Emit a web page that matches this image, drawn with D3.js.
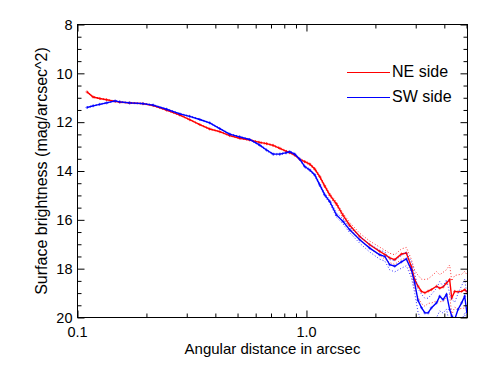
<!DOCTYPE html>
<html><head><meta charset="utf-8">
<script src="https://cdn.jsdelivr.net/npm/d3@7"></script>
<style>
body{margin:0;background:#fff}
text{font-family:"Liberation Sans",Arial,Helvetica,sans-serif;fill:#000}
</style>
</head><body><svg id="c" width="491" height="368"></svg>
<script>
const radius = [0.110,0.117,0.125,0.134,0.146,0.153,0.169,0.193,0.214,0.245,
  0.280,0.309,0.342,0.378,0.418,0.462,0.511,0.565,0.625,0.669,
  0.715,0.765,0.818,0.845,0.889,0.935,0.983,1.034,1.087,1.143,
  1.202,1.264,1.352,1.445,1.545,1.709,1.890,2.089,2.20,2.31,
  2.43,2.60,2.73,2.87,2.97,3.07,3.18,3.29,3.40,3.51,
  3.70,3.82,3.95,4.09,4.22,4.31,4.44,4.59,4.76,4.91,5.02];
const neMag = [10.76,10.97,11.03,11.08,11.15,11.18,11.21,11.24,11.32,11.51,
  11.71,11.90,12.10,12.28,12.39,12.55,12.66,12.73,12.83,12.88,
  12.95,13.07,13.20,13.25,13.35,13.52,13.62,13.72,13.92,14.23,
  14.62,14.98,15.35,15.82,16.22,16.68,17.02,17.29,17.42,17.56,
  17.63,17.40,17.36,17.91,18.45,18.72,18.93,18.99,18.92,18.86,
  18.72,18.80,18.75,18.59,18.45,19.20,18.93,18.95,18.93,18.86,18.95];
const swMag = [11.40,11.33,11.27,11.21,11.13,11.17,11.21,11.24,11.30,11.47,
  11.66,11.76,11.89,12.03,12.26,12.49,12.60,12.71,12.94,13.14,
  13.31,13.31,13.25,13.21,13.31,13.52,13.82,13.96,14.16,14.57,
  14.98,15.25,15.80,16.07,16.41,16.82,17.16,17.43,17.50,17.84,
  17.90,17.72,17.60,18.04,18.59,19.30,19.60,19.81,19.81,19.61,
  19.40,19.13,19.27,19.05,19.67,19.94,20.08,19.67,19.40,19.13,19.81];
const neErr = [0.02,0.02,0.02,0.02,0.02,0.02,0.02,0.02,0.02,0.02,
  0.02,0.02,0.02,0.02,0.02,0.02,0.02,0.02,0.03,0.03,
  0.03,0.03,0.03,0.03,0.03,0.03,0.04,0.04,0.05,0.05,
  0.06,0.07,0.08,0.09,0.11,0.13,0.15,0.17,0.18,0.19,
  0.20,0.21,0.23,0.30,0.38,0.45,0.50,0.55,0.50,0.55,
  0.60,0.55,0.60,0.55,0.60,0.70,0.65,0.70,0.70,0.75,0.70];
const swErr = [0.02,0.02,0.02,0.02,0.02,0.02,0.02,0.02,0.02,0.02,
  0.02,0.02,0.02,0.02,0.02,0.02,0.02,0.02,0.03,0.03,
  0.03,0.03,0.03,0.03,0.03,0.03,0.04,0.04,0.05,0.05,
  0.06,0.07,0.09,0.10,0.12,0.14,0.16,0.18,0.19,0.21,
  0.23,0.26,0.28,0.32,0.40,0.48,0.55,0.60,0.60,0.55,
  0.60,0.60,0.55,0.60,0.65,0.70,0.70,0.65,0.70,0.70,0.75];
const seriesNames = ["NE side","SW side"];
const seriesColors = ["#ff0000","#0000ff"];
const xMajorTicks = [0.1, 1.0];
const xMajorLabels = ["0.1","1.0"];
const xMinorTicks = [0.2,0.3,0.4,0.5,0.6,0.7,0.8,0.9,2,3,4,5];
const yMajorTicks = [8,10,12,14,16,18,20];
const yMinorTicks = [8.5,9,9.5,10.5,11,11.5,12.5,13,13.5,14.5,15,15.5,16.5,17,17.5,18.5,19,19.5];
const xTitle = "Angular distance in arcsec";
const yTitle = "Surface brightness (mag/arcsec^2)";

const svg = d3.select("#c");
const L = 77.5, R = 467.5, T = 24.5, B = 317.5;
const x = d3.scaleLog().domain([0.1, 5.05]).range([L, R]);
const y = d3.scaleLinear().domain([8, 20]).range([T, B]);

svg.append("defs").append("clipPath").attr("id","clip")
  .append("rect").attr("x",L).attr("y",T).attr("width",R-L).attr("height",B-T);

const plot = svg.append("g").attr("clip-path","url(#clip)");
const series = [
  {name:seriesNames[0], color:seriesColors[0], mag:neMag, err:neErr},
  {name:seriesNames[1], color:seriesColors[1], mag:swMag, err:swErr}
];
const line = d3.line().x(d=>x(d[0])).y(d=>y(d[1]));
series.forEach(s=>{
  const main = radius.map((r,i)=>[r, s.mag[i]]);
  const lo = radius.map((r,i)=>[r, s.mag[i]-s.err[i]]);
  const hi = radius.map((r,i)=>[r, s.mag[i]+s.err[i]]);
  [lo,hi].forEach(b=>{
    plot.append("path").attr("d", line(b)).attr("fill","none")
      .attr("stroke", s.color).attr("stroke-width",1).attr("stroke-dasharray","1,2").attr("opacity",0.8);
  });
  plot.append("path").attr("d", line(main)).attr("fill","none")
    .attr("stroke", s.color).attr("stroke-width",1.4);
  plot.selectAll(null).data(main).enter().append("path")
    .attr("transform", d=>`translate(${x(d[0])},${y(d[1])})`)
    .attr("d","M-1.5,0H1.5M0,-1.5V1.5")
    .attr("stroke", s.color).attr("stroke-width",1).attr("opacity",0.6);
});

// axes
function ax(gen, tx, ty){ return svg.append("g").attr("transform",`translate(${tx},${ty})`).call(gen); }
const axes = [];
axes.push(ax(d3.axisBottom(x).tickValues(xMajorTicks).tickSize(-7).tickFormat(""), 0, B));
axes.push(ax(d3.axisBottom(x).tickValues(xMinorTicks).tickSize(-4).tickFormat(""), 0, B));
axes.push(ax(d3.axisTop(x).tickValues(xMajorTicks).tickSize(-7).tickFormat(""), 0, T));
axes.push(ax(d3.axisTop(x).tickValues(xMinorTicks).tickSize(-4).tickFormat(""), 0, T));
axes.push(ax(d3.axisLeft(y).tickValues(yMajorTicks).tickSize(-7).tickFormat(""), L, 0));
axes.push(ax(d3.axisLeft(y).tickValues(yMinorTicks).tickSize(-4).tickFormat(""), L, 0));
axes.push(ax(d3.axisRight(y).tickValues(yMajorTicks).tickSize(-7).tickFormat(""), R, 0));
axes.push(ax(d3.axisRight(y).tickValues(yMinorTicks).tickSize(-4).tickFormat(""), R, 0));
axes.forEach(g=>{ g.select(".domain").remove(); g.selectAll("line").attr("stroke","#000").attr("stroke-width",1); });

svg.append("rect").attr("x",L).attr("y",T).attr("width",R-L).attr("height",B-T)
  .attr("fill","none").attr("stroke","#000").attr("stroke-width",1);

// tick labels
svg.selectAll(null).data(yMajorTicks).enter().append("text")
  .attr("x", L-5).attr("y", d=>y(d)).attr("dy","0.36em")
  .attr("text-anchor","end").attr("font-size",14.5).text(d=>d);
svg.selectAll(null).data(xMajorTicks).enter().append("text")
  .attr("x", d=>x(d)).attr("y", 337)
  .attr("text-anchor","middle").attr("font-size",14.5).text((d,i)=>xMajorLabels[i]);

svg.append("text").attr("x",(L+R)/2).attr("y",354).attr("text-anchor","middle")
  .attr("font-size",15).text(xTitle);
svg.append("text").attr("transform",`translate(47,${(T+B)/2}) rotate(-90)`)
  .attr("text-anchor","middle").attr("font-size",16).text(yTitle);

// legend
series.forEach((s,i)=>{
  const ly = 72.5 + i*25;
  svg.append("line").attr("x1",347).attr("x2",390).attr("y1",ly).attr("y2",ly)
    .attr("stroke",s.color).attr("stroke-width",1);
  svg.append("text").attr("x",392).attr("y",ly+4.5).attr("font-size",16).text(s.name);
});
</script></body></html>
